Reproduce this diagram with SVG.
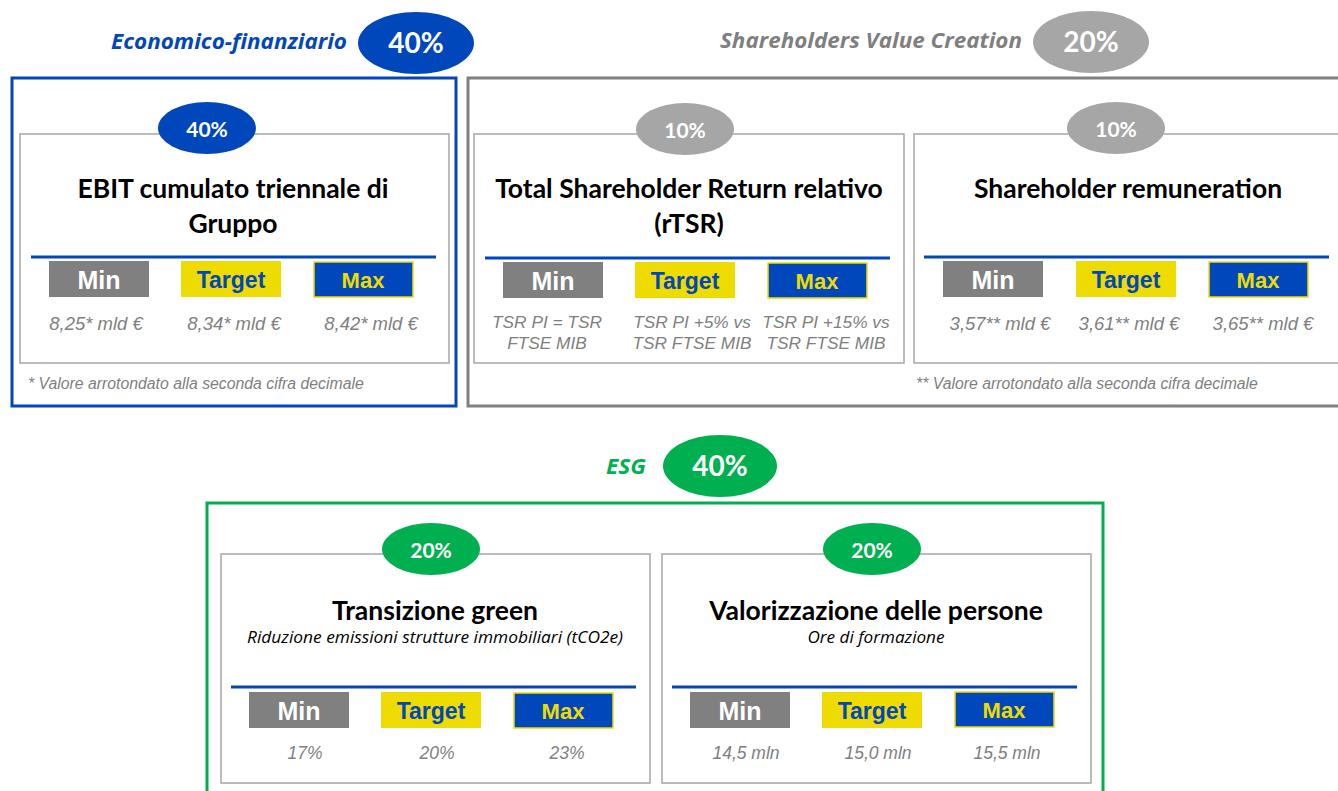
<svg xmlns="http://www.w3.org/2000/svg" width="1338" height="791" viewBox="0 0 1338 791">
<style>
.hdr{font-family:"Open Sans",Lato,sans-serif;font-weight:bold;font-style:italic;font-size:21px}
.pct{font-family:Lato,"Open Sans",sans-serif;font-weight:bold;fill:#fff;text-anchor:middle}
.ttl{font-family:Lato,"Open Sans",sans-serif;font-weight:bold;font-size:26.5px;fill:#000;text-anchor:middle}
.sub{font-family:"Open Sans",Lato,sans-serif;font-style:italic;font-size:16px;fill:#000;text-anchor:middle}
.inner{fill:#fff;stroke:#a6a6a6;stroke-width:1.5}
.bl{stroke:#0047bb;stroke-width:3}
.bmin{fill:#808080}
.btgt{fill:#eedc00}
.bmax{fill:#0047bb;stroke:#eedc00;stroke-width:1.5}
.lab{font-family:"Liberation Sans",Arial,sans-serif;font-weight:bold;text-anchor:middle}
.mn{font-size:25px;fill:#fff}
.tg{font-size:23px;fill:#0047bb}
.mx{font-size:22px;fill:#eedc00}
.val{font-family:"Liberation Sans",Arial,sans-serif;font-style:italic;font-size:18.5px;fill:#7f7f7f;text-anchor:middle}
.v2{font-size:17.3px}
.v3{font-size:17.5px}
.fn{font-family:"Liberation Sans",Arial,sans-serif;font-style:italic;font-size:15.8px;fill:#7f7f7f}
</style>
<rect width="1338" height="791" fill="#fff"/>

<g id="grp-econ">
<rect x="12" y="78" width="444" height="328" fill="#fff" stroke="#0047bb" stroke-width="3"/>
<text class="hdr" x="111" y="49" textLength="236" lengthAdjust="spacingAndGlyphs" fill="#0047bb">Economico-finanziario</text>
<ellipse cx="416" cy="43" rx="58" ry="31" fill="#0047bb"/>
<text class="pct" x="416" y="53" font-size="28">40%</text>
<text class="fn" x="28" y="389">* Valore arrotondato alla seconda cifra decimale</text>
</g>

<g id="grp-svc">
<rect x="468" y="78" width="880" height="328" fill="#fff" stroke="#808080" stroke-width="3"/>
<text class="hdr" x="720" y="48" textLength="302" lengthAdjust="spacingAndGlyphs" fill="#7f7f7f">Shareholders Value Creation</text>
<ellipse cx="1091" cy="42" rx="58" ry="31" fill="#a6a6a6"/>
<text class="pct" x="1091" y="52" font-size="28">20%</text>
<text class="fn" x="916" y="389">** Valore arrotondato alla seconda cifra decimale</text>
</g>

<g id="grp-esg">
<rect x="207" y="503" width="896" height="300" fill="#fff" stroke="#00b050" stroke-width="3"/>
<text class="hdr" x="606" y="474" textLength="40" lengthAdjust="spacingAndGlyphs" fill="#00b050">ESG</text>
<ellipse cx="720" cy="466" rx="57" ry="31" fill="#00b050"/>
<text class="pct" x="720" y="476" font-size="28">40%</text>
</g>

<g id="kpi-ebit">
<rect class="inner" x="20" y="134" width="429" height="229"/>
<ellipse cx="207" cy="128" rx="49" ry="26" fill="#0047bb"/>
<text class="pct" x="207" y="137" font-size="21">40%</text>
<text class="ttl" x="233" y="198">EBIT cumulato triennale di</text>
<text class="ttl" x="233" y="233">Gruppo</text>
<line class="bl" x1="31" y1="257" x2="436" y2="257"/>
<rect class="bmin" x="49" y="261" width="100" height="36"/>
<text class="lab mn" x="99" y="289">Min</text>
<rect class="btgt" x="181" y="261" width="100" height="36"/>
<text class="lab tg" x="231" y="288">Target</text>
<rect class="bmax" x="314" y="262" width="99" height="35"/>
<text class="lab mx" x="363" y="288">Max</text>
<text class="val" x="96" y="330">8,25* mld €</text>
<text class="val" x="234" y="330">8,34* mld €</text>
<text class="val" x="371" y="330">8,42* mld €</text>
</g>

<g id="kpi-rtsr">
<rect class="inner" x="474" y="134" width="430" height="229"/>
<ellipse cx="685" cy="129" rx="49" ry="26" fill="#a6a6a6"/>
<text class="pct" x="685" y="138" font-size="21">10%</text>
<text class="ttl" x="689" y="198">Total Shareholder Return relativo</text>
<text class="ttl" x="689" y="233">(rTSR)</text>
<line class="bl" x1="485" y1="258" x2="890" y2="258"/>
<rect class="bmin" x="503" y="262" width="100" height="36"/>
<text class="lab mn" x="553" y="290">Min</text>
<rect class="btgt" x="635" y="262" width="100" height="36"/>
<text class="lab tg" x="685" y="289">Target</text>
<rect class="bmax" x="768" y="263" width="99" height="35"/>
<text class="lab mx" x="817" y="289">Max</text>
<text class="val v2" x="547" y="328">TSR PI = TSR</text>
<text class="val v2" x="547" y="349">FTSE MIB</text>
<text class="val v2" x="692" y="328">TSR PI +5% vs</text>
<text class="val v2" x="692" y="349">TSR FTSE MIB</text>
<text class="val v2" x="826" y="328">TSR PI +15% vs</text>
<text class="val v2" x="826" y="349">TSR FTSE MIB</text>
</g>

<g id="kpi-remun">
<rect class="inner" x="914" y="134" width="440" height="229"/>
<ellipse cx="1116" cy="128" rx="49" ry="26" fill="#a6a6a6"/>
<text class="pct" x="1116" y="137" font-size="21">10%</text>
<text class="ttl" x="1128" y="198">Shareholder remuneration</text>
<line class="bl" x1="924" y1="257" x2="1329" y2="257"/>
<rect class="bmin" x="943" y="261" width="100" height="36"/>
<text class="lab mn" x="993" y="289">Min</text>
<rect class="btgt" x="1076" y="261" width="100" height="36"/>
<text class="lab tg" x="1126" y="288">Target</text>
<rect class="bmax" x="1209" y="262" width="99" height="35"/>
<text class="lab mx" x="1258" y="288">Max</text>
<text class="val" x="1000" y="330">3,57** mld €</text>
<text class="val" x="1129" y="330">3,61** mld €</text>
<text class="val" x="1263" y="330">3,65** mld €</text>
</g>

<g id="kpi-green">
<rect class="inner" x="221" y="554" width="429" height="229"/>
<ellipse cx="431" cy="549" rx="49" ry="26" fill="#00b050"/>
<text class="pct" x="431" y="558" font-size="21">20%</text>
<text class="ttl" x="435" y="620">Transizione green</text>
<text class="sub" x="435" y="643" textLength="376" lengthAdjust="spacingAndGlyphs">Riduzione emissioni strutture immobiliari (tCO2e)</text>
<line class="bl" x1="231" y1="687" x2="636" y2="687"/>
<rect class="bmin" x="249" y="692" width="100" height="36"/>
<text class="lab mn" x="299" y="720">Min</text>
<rect class="btgt" x="381" y="692" width="100" height="36"/>
<text class="lab tg" x="431" y="719">Target</text>
<rect class="bmax" x="514" y="693" width="99" height="35"/>
<text class="lab mx" x="563" y="719">Max</text>
<text class="val v3" x="305" y="759">17%</text>
<text class="val v3" x="437" y="759">20%</text>
<text class="val v3" x="567" y="759">23%</text>
</g>

<g id="kpi-persone">
<rect class="inner" x="662" y="554" width="429" height="229"/>
<ellipse cx="872" cy="549" rx="49" ry="26" fill="#00b050"/>
<text class="pct" x="872" y="558" font-size="21">20%</text>
<text class="ttl" x="876" y="620">Valorizzazione delle persone</text>
<text class="sub" x="876" y="643" textLength="137" lengthAdjust="spacingAndGlyphs">Ore di formazione</text>
<line class="bl" x1="672" y1="687" x2="1077" y2="687"/>
<rect class="bmin" x="690" y="692" width="100" height="36"/>
<text class="lab mn" x="740" y="720">Min</text>
<rect class="btgt" x="822" y="692" width="100" height="36"/>
<text class="lab tg" x="872" y="719">Target</text>
<rect class="bmax" x="955" y="692" width="99" height="35"/>
<text class="lab mx" x="1004" y="718">Max</text>
<text class="val v3" x="746" y="759">14,5 mln</text>
<text class="val v3" x="878" y="759">15,0 mln</text>
<text class="val v3" x="1007" y="759">15,5 mln</text>
</g>

<g id="connectors"></g>
</svg>
